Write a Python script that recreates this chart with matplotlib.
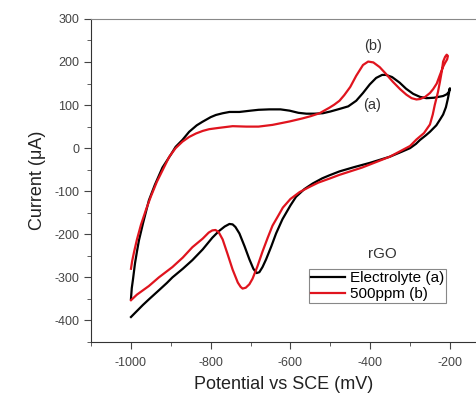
import matplotlib
matplotlib.use('Agg')
import matplotlib.pyplot as plt
from matplotlib.ticker import MultipleLocator

plt.rcParams['font.family'] = ['Liberation Sans', 'DejaVu Sans']
plt.rcParams['axes.unicode_minus'] = False

# Electrolyte (a) - forward and reverse sweeps
elec_fwd_x = [-1000, -985, -970, -955, -930, -910, -896, -870, -846, -820, -796, -780, -765, -753,
              -745, -738, -728, -715, -703, -693, -685, -678, -670, -661, -648, -636, -620, -600,
              -586, -565, -544, -520, -502, -477, -440, -400, -351, -320, -300, -285, -275, -260,
              -250, -234, -225, -217, -210, -205, -200]
elec_fwd_y = [-392, -378, -364, -351, -330, -313, -300, -280, -260, -235, -208, -193, -182, -176,
              -177, -183, -198, -228, -258, -280, -290, -288, -276, -258, -228, -198, -165, -133,
              -113, -95, -82, -70, -63, -54, -44, -34, -20, -8, 0, 10, 19, 30,
              38, 53, 66, 78, 95, 115, 139]
elec_rev_x = [-200, -203, -208, -217, -240, -259, -275, -292, -310, -326, -345, -360, -370, -385,
              -401, -418, -435, -455, -477, -500, -519, -540, -560, -580, -602, -625, -653, -680,
              -700, -728, -753, -770, -787, -800, -821, -835, -854, -871, -888, -900, -921, -940,
              -955, -970, -980, -985, -990, -995, -998, -1000]
elec_rev_y = [139, 130, 125, 121, 117, 116, 119, 126, 138, 152, 165, 170, 170, 163,
              148, 128, 110, 97, 91, 85, 81, 80, 80, 82, 87, 90, 90, 89,
              87, 84, 84, 81, 77, 72, 61, 53, 38, 19, 3, -15, -45, -85,
              -121, -175, -214, -240, -268, -305, -325, -350]

# 500ppm (b)
ppm_fwd_x = [-1000, -985, -970, -955, -930, -896, -870, -846, -820, -805, -796, -788, -780, -770,
             -758, -745, -732, -725, -720, -712, -703, -695, -683, -670, -657, -645, -630, -619,
             -600, -577, -550, -530, -500, -477, -420, -351, -300, -284, -265, -250, -243, -238,
             -230, -225, -220, -217, -212, -208, -205]
ppm_fwd_y = [-353, -340, -330, -320, -300, -276, -254, -230, -210, -196, -191, -190, -195, -212,
             -245, -282, -312, -322, -326, -324, -316, -303, -275, -240, -208, -180, -156, -138,
             -118, -102, -89, -80, -70, -62, -45, -20, 5, 20, 35, 55, 78, 100,
             130, 154, 180, 201, 212, 217, 214]
ppm_rev_x = [-205, -207, -212, -217, -225, -233, -242, -250, -262, -275, -284, -296, -309, -325,
             -343, -360, -376, -392, -405, -418, -435, -450, -465, -477, -490, -502, -527, -550,
             -570, -602, -645, -680, -711, -745, -780, -804, -820, -837, -854, -871, -888, -904,
             -920, -935, -950, -962, -975, -985, -992, -997, -1000]
ppm_rev_y = [214, 206, 198, 189, 170, 150, 137, 128, 119, 114, 113, 116, 124, 137,
             154, 172, 188, 199, 201, 193, 168, 142, 123, 110, 101, 94, 81, 74,
             69, 62, 54, 50, 50, 51, 47, 44, 40, 34, 26, 15, 0, -20,
             -50, -78, -112, -142, -178, -212, -240, -262, -280]

fig = plt.figure(figsize=(4.77, 3.94), dpi=100)
ax = fig.add_axes([0.191, 0.132, 0.809, 0.82])

ax.plot(elec_fwd_x + elec_rev_x, elec_fwd_y + elec_rev_y, color='black', lw=1.6,
        solid_joinstyle='round', label='Electrolyte (a)')
ax.plot(ppm_fwd_x + ppm_rev_x, ppm_fwd_y + ppm_rev_y, color='#e0141e', lw=1.6,
        solid_joinstyle='round', label='500ppm (b)')

ax.text(-392, 236, '(b)', fontsize=10.5, color='#333333', ha='center', va='center')
ax.text(-396, 100, '(a)', fontsize=10.5, color='#333333', ha='center', va='center')

ax.set_xlim(-1100, -132)
ax.set_ylim(-450, 300)
ax.xaxis.set_major_locator(MultipleLocator(200))
ax.xaxis.set_minor_locator(MultipleLocator(100))
ax.yaxis.set_major_locator(MultipleLocator(100))
ax.yaxis.set_minor_locator(MultipleLocator(50))
ax.tick_params(which='both', direction='out', colors='#444444', labelsize=9)
ax.tick_params(which='major', length=5)
ax.tick_params(which='minor', length=3)
ax.tick_params(axis='x', pad=6)

ax.spines['right'].set_visible(False)
for s in ['left', 'bottom']:
    ax.spines[s].set_color('#333333')
ax.spines['top'].set_color('#888888')

ax.set_xlabel('Potential vs SCE (mV)', fontsize=13, color='#222222', labelpad=5)
ax.set_ylabel('Current (\u03bcA)', fontsize=13, color='#222222', labelpad=6)

ax.text(0.754, 0.272, 'rGO', transform=ax.transAxes, fontsize=11, color='#333333',
        ha='center', va='center')
leg = ax.legend(loc='lower left', bbox_to_anchor=(0.565, 0.12), fontsize=11,
                handlelength=2.2, handletextpad=0.3, borderpad=0.15, borderaxespad=0,
                labelspacing=0.1, fancybox=False, framealpha=1)
leg.get_frame().set_edgecolor('#888888')
leg.get_frame().set_linewidth(0.8)

fig.savefig('out.png', dpi=100)
